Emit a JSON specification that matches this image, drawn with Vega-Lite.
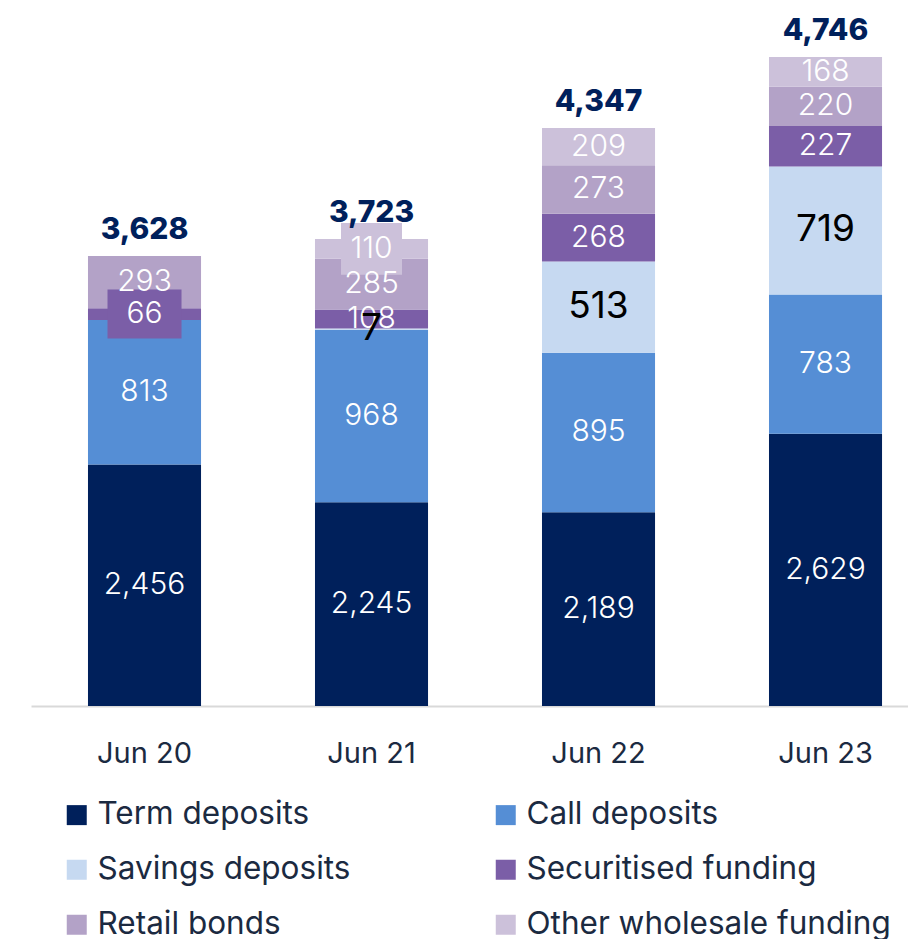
{
  "$schema": "https://vega.github.io/schema/vega-lite/v6.json",
  "width": 877,
  "height": 706,
  "padding": {"left": 31, "top": 0, "right": 0, "bottom": 233},
  "autosize": {"type": "none"},
  "background": "white",
  "config": {
    "view": {"stroke": null},
    "font": "Inter"
  },
  "data": {
    "values": [
      {"period": "Jun 20", "series": "Term deposits", "value": 2456},
      {"period": "Jun 20", "series": "Call deposits", "value": 813},
      {"period": "Jun 20", "series": "Savings deposits", "value": 0},
      {"period": "Jun 20", "series": "Securitised funding", "value": 66},
      {"period": "Jun 20", "series": "Retail bonds", "value": 293},
      {"period": "Jun 20", "series": "Other wholesale funding", "value": 0},
      {"period": "Jun 21", "series": "Term deposits", "value": 2245},
      {"period": "Jun 21", "series": "Call deposits", "value": 968},
      {"period": "Jun 21", "series": "Savings deposits", "value": 7},
      {"period": "Jun 21", "series": "Securitised funding", "value": 108},
      {"period": "Jun 21", "series": "Retail bonds", "value": 285},
      {"period": "Jun 21", "series": "Other wholesale funding", "value": 110},
      {"period": "Jun 22", "series": "Term deposits", "value": 2189},
      {"period": "Jun 22", "series": "Call deposits", "value": 895},
      {"period": "Jun 22", "series": "Savings deposits", "value": 513},
      {"period": "Jun 22", "series": "Securitised funding", "value": 268},
      {"period": "Jun 22", "series": "Retail bonds", "value": 273},
      {"period": "Jun 22", "series": "Other wholesale funding", "value": 209},
      {"period": "Jun 23", "series": "Term deposits", "value": 2629},
      {"period": "Jun 23", "series": "Call deposits", "value": 783},
      {"period": "Jun 23", "series": "Savings deposits", "value": 719},
      {"period": "Jun 23", "series": "Securitised funding", "value": 227},
      {"period": "Jun 23", "series": "Retail bonds", "value": 220},
      {"period": "Jun 23", "series": "Other wholesale funding", "value": 168}
    ]
  },
  "transform": [
    {"calculate": "indexof(['Term deposits','Call deposits','Savings deposits','Securitised funding','Retail bonds','Other wholesale funding'], datum.series)", "as": "o"},
    {"stack": "value", "groupby": ["period"], "sort": [{"field": "o", "order": "ascending"}], "as": ["s0", "s1"]},
    {"calculate": "(max(datum.s0, 1100) + datum.s1) / 2", "as": "mid"}
  ],
  "encoding": {
    "x": {
      "field": "period",
      "type": "nominal",
      "sort": ["Jun 20", "Jun 21", "Jun 22", "Jun 23"],
      "scale": {"paddingInner": 0.502, "paddingOuter": 0.1827, "align": 0.687},
      "axis": {
        "title": null,
        "labelAngle": 0,
        "labelFontSize": 29,
        "labelColor": "#1B2A41",
        "labelPadding": 33,
        "ticks": false,
        "domainColor": "#D9D9D9",
        "domainWidth": 2,
        "labelFont": "Inter"
      }
    }
  },
  "layer": [
    {
      "mark": {"type": "bar", "clip": true},
      "encoding": {
        "y": {"field": "s0", "type": "quantitative", "scale": {"domain": [1100, 5066], "nice": false, "zero": false}, "axis": null},
        "y2": {"field": "s1"},
        "color": {
          "field": "series",
          "type": "nominal",
          "scale": {
            "domain": ["Term deposits", "Savings deposits", "Retail bonds", "Call deposits", "Securitised funding", "Other wholesale funding"],
            "range": ["#00205B", "#C6D9F1", "#B3A2C7", "#558ED5", "#7B5EA7", "#CCC1DA"]
          },
          "legend": {
            "title": null,
            "orient": "none",
            "legendX": 30,
            "legendY": 799,
            "columns": 2,
            "columnPadding": 139,
            "rowPadding": 22,
            "symbolType": "square",
            "symbolSize": 400,
            "symbolStrokeWidth": 0,
            "labelFontSize": 31.5,
            "labelColor": "#1B2A41",
            "labelOffset": 5,
            "labelLimit": 500,
            "labelFont": "Inter"
          }
        }
      }
    },
    {
      "transform": [
        {"filter": "datum.period === 'Jun 20' && datum.series === 'Securitised funding'"}
      ],
      "mark": {"type": "point", "filled": true, "opacity": 1, "strokeWidth": 0, "shape": "M-1,-0.662L1,-0.662L1,0.662L-1,0.662Z", "size": 5476},
      "encoding": {
        "y": {"field": "mid", "type": "quantitative"},
        "color": {"field": "series", "type": "nominal"}
      }
    },
    {
      "transform": [
        {"filter": "datum.period === 'Jun 21' && datum.series === 'Other wholesale funding'"}
      ],
      "mark": {"type": "point", "filled": true, "opacity": 1, "strokeWidth": 0, "shape": "M-1,-0.852L1,-0.852L1,0.852L-1,0.852Z", "size": 3721},
      "encoding": {
        "y": {"field": "mid", "type": "quantitative"},
        "color": {"field": "series", "type": "nominal"}
      }
    },
    {
      "transform": [{"filter": "datum.value > 0 && datum.series !== 'Savings deposits'"}],
      "mark": {"type": "text", "fontSize": 30, "baseline": "middle", "align": "center", "font": "Inter", "fontWeight": 300, "color": "#FFFFFF"},
      "encoding": {
        "y": {"field": "mid", "type": "quantitative"},
        "text": {"field": "value", "type": "quantitative", "format": ","}
      }
    },
    {
      "transform": [{"filter": "datum.value > 0 && datum.series === 'Savings deposits'"}],
      "mark": {"type": "text", "fontSize": 37, "baseline": "middle", "align": "center", "font": "Inter", "fontWeight": 400, "color": "#000000"},
      "encoding": {
        "y": {"field": "mid", "type": "quantitative"},
        "text": {"field": "value", "type": "quantitative", "format": ","}
      }
    },
    {
      "transform": [{"aggregate": [{"op": "sum", "field": "value", "as": "total"}], "groupby": ["period"]}],
      "mark": {"type": "text", "fontSize": 30, "fontWeight": 800, "baseline": "alphabetic", "align": "center", "dy": -17, "color": "#00205B", "font": "Inter"},
      "encoding": {
        "y": {"field": "total", "type": "quantitative"},
        "text": {"field": "total", "type": "quantitative", "format": ","}
      }
    }
  ]
}
